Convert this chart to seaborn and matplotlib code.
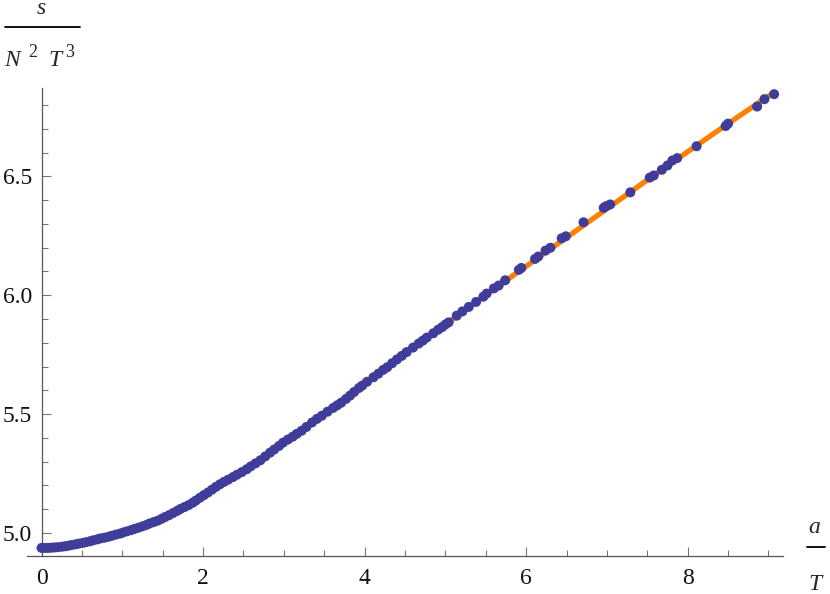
import numpy as np
import pandas as pd
import matplotlib
matplotlib.use("Agg")
import matplotlib.pyplot as plt
from matplotlib.ticker import MultipleLocator
import seaborn as sns

# ---- data ----
dot_a = [0.00, 0.04, 0.08, 0.12, 0.16, 0.20, 0.25, 0.29, 0.33, 0.37, 0.42, 0.46, 0.51, 0.55,
         0.60, 0.64, 0.69, 0.73, 0.78, 0.83, 0.87, 0.92, 0.97, 1.01, 1.06, 1.11, 1.15, 1.20,
         1.25, 1.30, 1.34, 1.39, 1.44, 1.49, 1.53, 1.58, 1.63, 1.68, 1.72, 1.77, 1.82, 1.87,
         1.91, 1.96, 2.01, 2.06, 2.11, 2.16, 2.21, 2.26, 2.31, 2.37, 2.42, 2.48, 2.54, 2.59,
         2.65, 2.71, 2.77, 2.83, 2.88, 2.94, 2.99, 3.05, 3.11, 3.16, 3.22, 3.28, 3.35, 3.41,
         3.47, 3.54, 3.61, 3.66, 3.71, 3.77, 3.82, 3.87, 3.93, 3.97, 4.03, 4.11, 4.17, 4.23,
         4.28, 4.34, 4.40, 4.46, 4.52, 4.60, 4.67, 4.72, 4.77, 4.85, 4.91, 4.96, 5.00, 5.04,
         5.14, 5.21, 5.29, 5.38, 5.47, 5.51, 5.60, 5.66, 5.74, 5.91, 5.94, 6.11, 6.15, 6.24,
         6.30, 6.44, 6.49, 6.71, 6.96, 6.99, 7.04, 7.29, 7.53, 7.58, 7.68, 7.75, 7.81, 7.87,
         8.11, 8.47, 8.50, 8.86, 8.95, 9.07]
dot_s = [4.937, 4.937, 4.937, 4.938, 4.939, 4.940, 4.942, 4.944, 4.946, 4.949, 4.952, 4.955,
         4.958, 4.961, 4.965, 4.969, 4.973, 4.977, 4.980, 4.984, 4.988, 4.993, 4.997, 5.002,
         5.007, 5.012, 5.017, 5.022, 5.028, 5.034, 5.040, 5.046, 5.052, 5.060, 5.067, 5.075,
         5.084, 5.093, 5.101, 5.109, 5.117, 5.127, 5.136, 5.148, 5.159, 5.170, 5.182, 5.194,
         5.205, 5.215, 5.224, 5.235, 5.245, 5.256, 5.268, 5.280, 5.293, 5.306, 5.322, 5.338,
         5.351, 5.366, 5.380, 5.393, 5.405, 5.417, 5.430, 5.446, 5.465, 5.480, 5.493, 5.510,
         5.526, 5.537, 5.548, 5.564, 5.578, 5.593, 5.610, 5.620, 5.636, 5.655, 5.670, 5.686,
         5.697, 5.714, 5.730, 5.745, 5.761, 5.780, 5.797, 5.809, 5.822, 5.840, 5.855, 5.866,
         5.877, 5.886, 5.914, 5.932, 5.951, 5.972, 5.994, 6.007, 6.029, 6.041, 6.063, 6.107,
         6.115, 6.153, 6.163, 6.188, 6.200, 6.240, 6.248, 6.307, 6.368, 6.375, 6.382, 6.433,
         6.495, 6.504, 6.528, 6.546, 6.567, 6.577, 6.627, 6.712, 6.722, 6.794, 6.825, 6.846]

fit_a = [0.0, 0.25, 0.5, 0.75, 1.0, 1.25, 1.5, 1.75, 2.0, 2.25, 2.5, 2.75, 3.0, 3.5, 4.0,
         4.5, 5.0, 5.5, 6.0, 6.5, 7.0, 7.5, 8.0, 8.5, 9.0, 9.07]
fit_s = [4.937, 4.942, 4.957, 4.978, 5.000, 5.028, 5.061, 5.105, 5.152, 5.213, 5.259, 5.318,
         5.380, 5.505, 5.629, 5.755, 5.877, 6.001, 6.122, 6.243, 6.364, 6.485, 6.604, 6.722,
         6.838, 6.850]

x_ticks = [0, 2, 4, 6, 8]
y_ticks = [5.0, 5.5, 6.0, 6.5]

dots = pd.DataFrame({"a": dot_a, "s": dot_s})
fit = pd.DataFrame({"a": fit_a, "s": fit_s})

sns.set_theme(style="white")
plt.rcParams["font.family"] = ["Liberation Serif", "DejaVu Serif"]

fig = plt.figure(figsize=(8.3, 5.94), dpi=100)
W, H = 830, 594
left, right, top, bottom = 27, 783, 88, 556
ax = fig.add_axes([left / W, 1 - bottom / H, (right - left) / W, (bottom - top) / H])

sns.lineplot(data=fit, x="a", y="s", ax=ax, color="#FF8000", linewidth=3.8,
             sort=True, estimator=None, zorder=2)
sns.scatterplot(data=dots, x="a", y="s", ax=ax, color="#3F3D99", s=52,
                edgecolor="none", linewidth=0, zorder=3)

ax.set_xlim(-0.18, 9.18)
ax.set_ylim(4.903, 6.872)
ax.set_xlabel("")
ax.set_ylabel("")

for side in ["top", "right"]:
    ax.spines[side].set_visible(False)
ax.spines["left"].set_position(("data", 0))
spine_col = "#555555"
for side in ["left", "bottom"]:
    ax.spines[side].set_color(spine_col)
    ax.spines[side].set_linewidth(0.9)

ax.set_xticks(x_ticks)
ax.set_xticklabels([str(t) for t in x_ticks])
ax.set_yticks(y_ticks)
ax.set_yticklabels([f"{t:.1f}" for t in y_ticks])
ax.xaxis.set_minor_locator(MultipleLocator(0.5))
ax.yaxis.set_minor_locator(MultipleLocator(0.1))
ax.tick_params(which="both", direction="in", color="#777777", width=0.8,
               labelsize=17, labelcolor="#111111")
ax.tick_params(which="major", length=6.5)
ax.tick_params(which="minor", length=4)
ax.tick_params(axis="x", which="major", pad=9)
ax.tick_params(axis="y", which="major", pad=7)
ax.tick_params(bottom=True, left=True, which="both")

def px(x, y):
    return x / W, 1 - y / H

# y label: s / (N^2 T^3)
fig.text(*px(41, 9), "s", style="italic", fontsize=17, ha="center", va="center")
fig.add_artist(plt.Line2D([5 / W, 80 / W], [1 - 27 / H, 1 - 27 / H], color="black", lw=1.3))
fig.text(*px(4, 66), "N", style="italic", fontsize=17, ha="left", va="baseline")
fig.text(*px(28, 57), "2", fontsize=13, ha="left", va="baseline")
fig.text(*px(48, 66), "T", style="italic", fontsize=17, ha="left", va="baseline")
fig.text(*px(65, 57), "3", fontsize=13, ha="left", va="baseline")

# x label: a / T
fig.text(*px(814, 533), "a", style="italic", fontsize=17, ha="center", va="baseline")
fig.add_artist(plt.Line2D([807 / W, 825 / W], [1 - 547 / H, 1 - 547 / H], color="black", lw=1.3))
fig.text(*px(815, 590), "T", style="italic", fontsize=17, ha="center", va="baseline")

fig.savefig("out.png", dpi=100)
